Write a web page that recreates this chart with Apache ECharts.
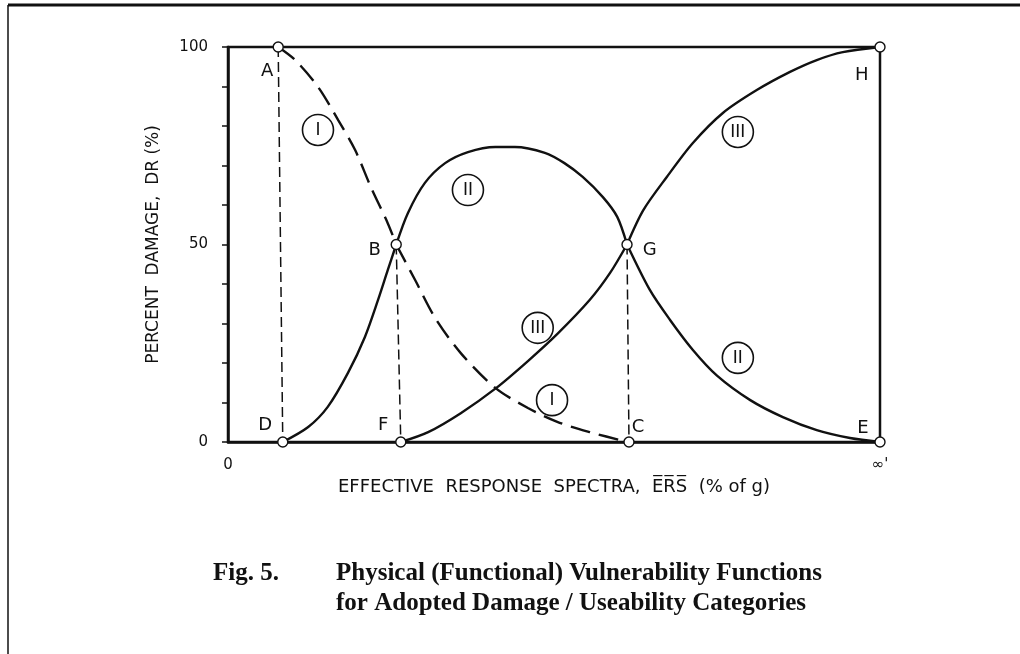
<!DOCTYPE html>
<html>
<head>
<meta charset="utf-8">
<script src="https://cdn.jsdelivr.net/npm/echarts@6/dist/echarts.min.js"></script>
<style>
  html, body { margin: 0; padding: 0; background: #fff; }
  #chart { width: 1020px; height: 654px; }
</style>
</head>
<body>
<div id="chart"></div>
<script>
// x: ERS scaled 0 .. 100 (100 = infinity), y: percent damage
const curveI_AB = [[7.7, 100], [10.3, 96.7], [13.8, 89.9], [16.9, 81.5], [19.5, 73.9], [21.9, 64.6], [24.5, 55.4], [25.8, 50]]
const curveI_BC = [[25.8, 50], [28.7, 41.0], [31.7, 31.6], [35.7, 22.5], [41.0, 13.7], [46.0, 8.6], [50.5, 5.1], [55.5, 2.5], [61.3, 0]]
const curveII_DB = [[8.4, 0], [12.3, 3.8], [15.3, 8.9], [18.4, 17.5], [21.0, 26.6], [23.0, 35.9], [24.5, 43.5], [25.8, 50]]
const curveII_BG = [[25.8, 50], [27.6, 58.0], [30.2, 65.6], [33.3, 70.6], [36.8, 73.4], [41.0, 74.7], [44.0, 74.7], [48.6, 73.2], [51.6, 70.6], [54.4, 67.1], [57.5, 62.0], [59.7, 57.0], [61.2, 50]]
const curveII_GE = [[61.2, 50], [64.7, 38.5], [67.8, 30.9], [71.3, 23.3], [75.0, 16.8], [80.1, 10.6], [85.1, 6.3], [90.3, 3.0], [95.4, 1.0], [100, 0]]
const curveIII_FG = [[26.5, 0], [30.7, 2.5], [35.7, 7.3], [41.0, 13.5], [46.0, 20.5], [50.6, 27.5], [55.5, 36.0], [58.6, 42.8], [61.2, 50]]
const curveIII_GH = [[61.2, 50], [63.7, 58.7], [67.3, 67.1], [71.3, 75.7], [75.9, 83.3], [81.1, 89.1], [86.2, 93.7], [90.3, 96.7], [94.3, 98.7], [100, 100]]

const dropAD = [[7.7, 100], [8.4, 0]]
const dropBF = [[25.8, 50], [26.5, 0]]
const dropGC = [[61.2, 50], [61.5, 0]]

const nodes = [[7.7, 100], [8.4, 0], [25.8, 50], [26.5, 0], [61.2, 50], [61.5, 0], [100, 0], [100, 100]]
const pointLetters = [[6.0, 93.9, 'A'], [22.5, 48.6, 'B'], [5.7, 4.3, 'D'], [23.8, 4.1, 'F'], [64.7, 48.6, 'G'], [62.9, 3.8, 'C'], [97.4, 3.5, 'E'], [97.2, 92.9, 'H']]
const categoryTags = [[13.8, 79.0, 'I'], [36.8, 63.8, 'II'], [78.2, 78.5, 'III'], [47.5, 28.9, 'III'], [49.7, 10.6, 'I'], [78.2, 21.3, 'II']]

const yTickLabels = [0, 50, 100]

const ink = '#111'
const sans = 'DejaVu Sans'

function curve(data, dashed) {
  return {
    type: 'line', data: data, smooth: 0.3, symbol: 'none', silent: true,
    lineStyle: { color: ink, width: 2.4, type: dashed ? [20, 9] : 'solid' },
    z: 3
  }
}
function drop(data) {
  return {
    type: 'line', data: data, symbol: 'none', silent: true,
    lineStyle: { color: ink, width: 1.5, type: [10, 5] },
    z: 2
  }
}

const chart = echarts.init(document.getElementById('chart'), null, { renderer: 'canvas' })
chart.setOption({
  animation: false,
  backgroundColor: '#fff',
  grid: { left: 228, top: 47, width: 652, height: 395, show: true, borderColor: ink, borderWidth: 2.5 },
  xAxis: {
    type: 'value', min: 0, max: 100, interval: 100,
    axisLine: { lineStyle: { color: ink, width: 2.5 } },
    axisTick: { show: false },
    splitLine: { show: false },
    axisLabel: {
      color: ink, fontFamily: sans, fontSize: 15, margin: 16,
      formatter: v => (v === 0 ? '0' : (v === 100 ? '\u221e\'' : ''))
    },
    name: 'EFFECTIVE  RESPONSE  SPECTRA,  E\u0305R\u0305S\u0305  (% of g)',
    nameLocation: 'middle', nameGap: 30,
    nameTextStyle: { color: ink, fontFamily: sans, fontSize: 18 }
  },
  yAxis: {
    type: 'value', min: 0, max: 100, interval: 10,
    axisLine: { lineStyle: { color: ink, width: 2.5 } },
    axisTick: { show: true, length: 6, lineStyle: { color: ink, width: 1.5 } },
    splitLine: { show: false },
    axisLabel: {
      color: ink, fontFamily: sans, fontSize: 15, margin: 20,
      formatter: v => (yTickLabels.indexOf(v) >= 0 ? String(v) : '')
    },
    name: 'PERCENT  DAMAGE,  DR (%)',
    nameLocation: 'middle', nameGap: 66,
    nameTextStyle: { color: ink, fontFamily: sans, fontSize: 17 }
  },
  graphic: [
    { type: 'line', shape: { x1: 8, y1: 5, x2: 1020, y2: 5 }, style: { stroke: ink, lineWidth: 3 } },
    { type: 'line', shape: { x1: 8, y1: 5, x2: 8, y2: 654 }, style: { stroke: ink, lineWidth: 1.5 } },
    { type: 'text', left: 213, top: 561, style: { text: 'Fig. 5.', fill: ink, font: 'bold 25px "Liberation Serif"' } },
    { type: 'text', left: 336, top: 561, style: { text: 'Physical (Functional) Vulnerability Functions', fill: ink, font: 'bold 25px "Liberation Serif"' } },
    { type: 'text', left: 336, top: 591, style: { text: 'for Adopted Damage / Useability Categories', fill: ink, font: 'bold 25px "Liberation Serif"' } }
  ],
  series: [
    curve(curveI_AB, true),
    curve(curveI_BC, true),
    curve(curveII_DB, false),
    curve(curveII_BG, false),
    curve(curveII_GE, false),
    curve(curveIII_FG, false),
    curve(curveIII_GH, false),
    drop(dropAD),
    drop(dropBF),
    drop(dropGC),
    {
      type: 'scatter', data: nodes, symbol: 'circle', symbolSize: 10, silent: true, z: 5,
      itemStyle: { color: '#fff', borderColor: ink, borderWidth: 1.4, opacity: 1 }
    },
    {
      type: 'scatter', data: pointLetters, symbolSize: 0, silent: true, z: 6,
      itemStyle: { opacity: 1 },
      label: {
        show: true, position: 'inside', color: ink, opacity: 1, textBorderWidth: 0, fontFamily: sans, fontSize: 18,
        formatter: p => p.value[2]
      }
    },
    {
      type: 'scatter', data: categoryTags, symbol: 'circle', symbolSize: 31, silent: true, z: 6,
      itemStyle: { color: '#fff', borderColor: ink, borderWidth: 1.6, opacity: 1 },
      label: {
        show: true, position: 'inside', color: ink, opacity: 1, textBorderWidth: 0, fontFamily: 'Liberation Sans Narrow, Liberation Sans', fontSize: 18,
        formatter: p => p.value[2]
      }
    }
  ]
})
</script>
</body>
</html>
